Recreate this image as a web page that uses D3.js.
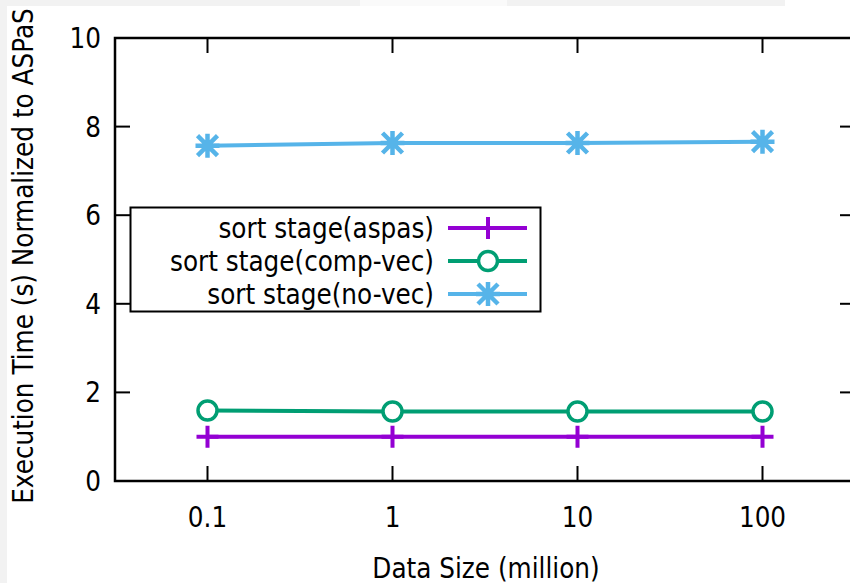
<!DOCTYPE html>
<html>
<head>
<meta charset="utf-8">
<script src="https://cdn.jsdelivr.net/npm/d3@7"></script>
<style>
  body { margin: 0; background: #fff; }
  svg { display: block; }
  text { font-family: "DejaVu Sans Condensed", "DejaVu Sans", sans-serif; fill: #000; }
</style>
</head>
<body>
<div id="chart"></div>
<script>
// Data
const sizes = [0.1, 1, 10, 100];
const sizeLabels = ["0.1", "1", "10", "100"];
const yTicks = [0, 2, 4, 6, 8, 10];
const aspas = [1.0, 1.0, 1.0, 1.0];
const compVec = [1.59, 1.57, 1.57, 1.57];
const noVec = [7.57, 7.63, 7.63, 7.66];
const seriesNames = ["sort stage(aspas)", "sort stage(comp-vec)", "sort stage(no-vec)"];
const seriesColors = ["#9400d3", "#009e73", "#56b4e9"];

const width = 850, height = 583;
const margin = { left: 115, top: 38, right: 855, bottom: 481 };
const fs = "27.5px";

const svg = d3.select("#chart").append("svg")
    .attr("width", width)
    .attr("height", height);

// grayish strips from the cropped screenshot edges
svg.append("rect").attr("x", 0).attr("y", 0).attr("width", 7).attr("height", height).attr("fill", "#f2f2f2");
svg.append("rect").attr("x", 0).attr("y", 0).attr("width", 360).attr("height", 6).attr("fill", "#f2f2f2");
svg.append("rect").attr("x", 360).attr("y", 0).attr("width", 147).attr("height", 6).attr("fill", "#fafafa");
svg.append("rect").attr("x", 507).attr("y", 0).attr("width", 278).attr("height", 6).attr("fill", "#f2f2f2");

const x = d3.scaleLog()
    .domain([Math.pow(10, -1.5), Math.pow(10, 2.5)])
    .range([margin.left, margin.right]);

const y = d3.scaleLinear()
    .domain([0, 10])
    .range([margin.bottom, margin.top]);

const tickLen = 15;
const axisG = svg.append("g").attr("stroke", "#000").attr("stroke-width", 2);

// y ticks (left and mirrored on right)
yTicks.forEach(t => {
    if (t === 0 || t === 10) return;
    axisG.append("line").attr("x1", margin.left).attr("x2", margin.left + tickLen)
        .attr("y1", y(t)).attr("y2", y(t));
    axisG.append("line").attr("x1", margin.right - tickLen).attr("x2", margin.right)
        .attr("y1", y(t)).attr("y2", y(t));
});
// x ticks (bottom and mirrored on top)
sizes.forEach(s => {
    axisG.append("line").attr("x1", x(s)).attr("x2", x(s))
        .attr("y1", margin.bottom).attr("y2", margin.bottom - tickLen);
    axisG.append("line").attr("x1", x(s)).attr("x2", x(s))
        .attr("y1", margin.top).attr("y2", margin.top + tickLen);
});

// tick labels
svg.append("g").selectAll("text")
    .data(yTicks)
    .join("text")
    .attr("x", 101)
    .attr("y", d => y(d))
    .attr("dy", "0.36em")
    .attr("text-anchor", "end")
    .style("font-size", fs)
    .text(d => d);

svg.append("g").selectAll("text")
    .data(sizes)
    .join("text")
    .attr("x", d => x(d))
    .attr("y", 517)
    .attr("dy", "0.36em")
    .attr("text-anchor", "middle")
    .style("font-size", fs)
    .text((d, i) => sizeLabels[i]);

// axis titles
svg.append("text")
    .attr("x", 486)
    .attr("y", 568)
    .attr("dy", "0.36em")
    .attr("text-anchor", "middle")
    .style("font-size", fs)
    .text("Data Size (million)");

svg.append("text")
    .attr("transform", "translate(23,256) rotate(-90)")
    .attr("dy", "0.36em")
    .attr("text-anchor", "middle")
    .style("font-size", fs)
    .text("Execution Time (s) Normalized to ASPaS");

// markers
function drawMarker(g, type, cx, cy, color) {
    const r = 11;
    if (type === 0) {
        g.append("path")
            .attr("d", `M${cx - r},${cy}H${cx + r}M${cx},${cy - r}V${cy + r}`)
            .attr("stroke", color).attr("stroke-width", 4).attr("fill", "none");
    } else if (type === 1) {
        g.append("circle")
            .attr("cx", cx).attr("cy", cy).attr("r", 9.5)
            .attr("fill", "#fff").attr("stroke", color).attr("stroke-width", 3.5);
    } else {
        const rs = 12, d = 10;
        g.append("path")
            .attr("d", `M${cx - rs},${cy}H${cx + rs}M${cx},${cy - rs}V${cy + rs}` +
                `M${cx - d},${cy - d}L${cx + d},${cy + d}M${cx - d},${cy + d}L${cx + d},${cy - d}`)
            .attr("stroke", color).attr("stroke-width", 4.5).attr("fill", "none");
    }
}

const allSeries = [aspas, compVec, noVec];
const line = d3.line()
    .x((d, i) => x(sizes[i]))
    .y(d => y(d));

allSeries.forEach((vals, k) => {
    const g = svg.append("g");
    g.append("path")
        .datum(vals)
        .attr("d", line)
        .attr("fill", "none")
        .attr("stroke", seriesColors[k])
        .attr("stroke-width", 4);
    vals.forEach((v, i) => drawMarker(g, k, x(sizes[i]), y(v), seriesColors[k]));
});

// legend
const legend = svg.append("g");
legend.append("rect")
    .attr("x", 130.5).attr("y", 207.5)
    .attr("width", 410).attr("height", 104)
    .attr("fill", "#fff").attr("stroke", "#000").attr("stroke-width", 2);

seriesNames.forEach((name, k) => {
    const ly = 228 + k * 33;
    legend.append("text")
        .attr("x", 434)
        .attr("y", ly)
        .attr("dy", "0.36em")
        .attr("text-anchor", "end")
        .style("font-size", fs)
        .text(name);
    legend.append("line")
        .attr("x1", 448).attr("x2", 527)
        .attr("y1", ly).attr("y2", ly)
        .attr("stroke", seriesColors[k]).attr("stroke-width", 4);
    drawMarker(legend, k, 488, ly, seriesColors[k]);
});

// border on top of everything
svg.append("rect")
    .attr("x", margin.left).attr("y", margin.top)
    .attr("width", margin.right - margin.left)
    .attr("height", margin.bottom - margin.top)
    .attr("fill", "none").attr("stroke", "#000").attr("stroke-width", 2.5);
</script>
</body>
</html>
